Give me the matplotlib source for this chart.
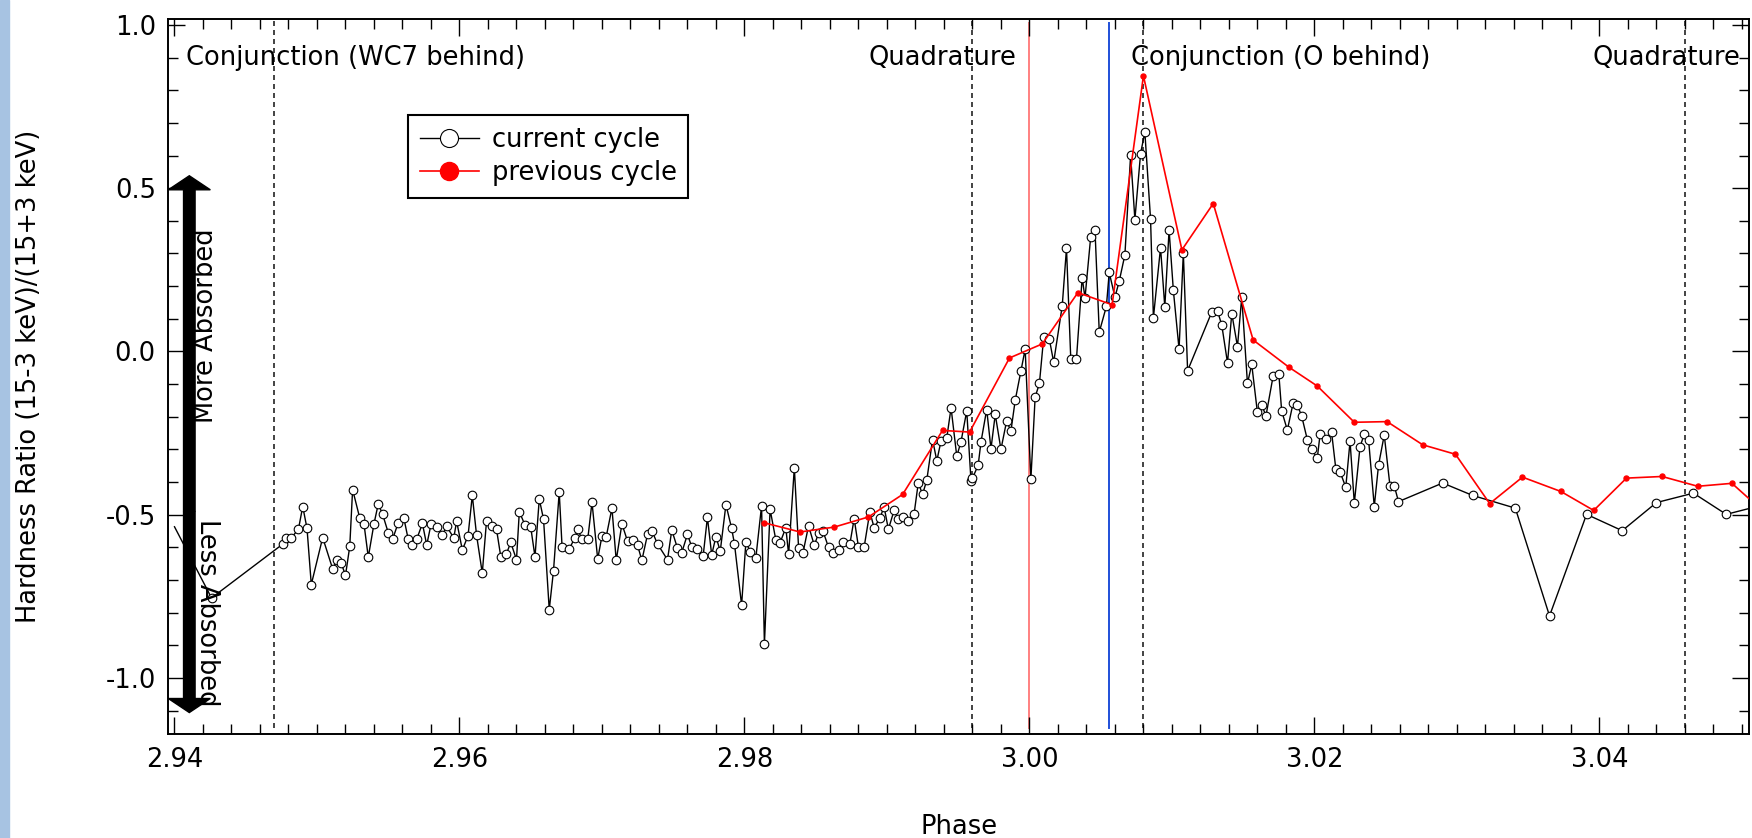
import matplotlib
matplotlib.use('Agg')
import matplotlib.pyplot as plt
from matplotlib.ticker import MultipleLocator, FormatStrFormatter
from matplotlib.lines import Line2D
from matplotlib.patches import Rectangle

plt.rcParams['font.family'] = 'DejaVu Sans'
plt.rcParams['axes.unicode_minus'] = False
FS = 18.5

# current cycle (open circles)
phase_cur = [
    2.9400, 2.9426, 2.9476, 2.9478, 2.9482, 2.9487, 2.9490, 2.9493, 2.9496, 2.9504,
    2.9511, 2.9514, 2.9517, 2.9520, 2.9523, 2.9525, 2.9530, 2.9533, 2.9536, 2.9540,
    2.9543, 2.9546, 2.9550, 2.9553, 2.9557, 2.9561, 2.9564, 2.9567, 2.9570, 2.9574,
    2.9577, 2.9580, 2.9584, 2.9588, 2.9591, 2.9596, 2.9598, 2.9602, 2.9606, 2.9609,
    2.9612, 2.9616, 2.9619, 2.9623, 2.9626, 2.9629, 2.9633, 2.9636, 2.9640, 2.9642,
    2.9646, 2.9650, 2.9653, 2.9656, 2.9659, 2.9663, 2.9666, 2.9670, 2.9672, 2.9677,
    2.9681, 2.9683, 2.9686, 2.9690, 2.9693, 2.9697, 2.9700, 2.9703, 2.9707, 2.9710,
    2.9714, 2.9718, 2.9722, 2.9725, 2.9728, 2.9732, 2.9735, 2.9739, 2.9746, 2.9749,
    2.9753, 2.9756, 2.9760, 2.9763, 2.9767, 2.9771, 2.9774, 2.9777, 2.9780, 2.9783,
    2.9787, 2.9791, 2.9793, 2.9798, 2.9801, 2.9804, 2.9808, 2.9812, 2.9814, 2.9818,
    2.9822, 2.9825, 2.9829, 2.9831, 2.9835, 2.9838, 2.9841, 2.9845, 2.9849, 2.9852,
    2.9855, 2.9859, 2.9862, 2.9866, 2.9869, 2.9874, 2.9877, 2.9880, 2.9884, 2.9888,
    2.9891, 2.9895, 2.9898, 2.9901, 2.9905, 2.9908, 2.9911, 2.9915, 2.9919, 2.9922,
    2.9925, 2.9928, 2.9932, 2.9935, 2.9938, 2.9942, 2.9945, 2.9949, 2.9952, 2.9956,
    2.9959, 2.9960, 2.9964, 2.9966, 2.9970, 2.9973, 2.9976, 2.9980, 2.9984, 2.9987,
    2.9990, 2.9994, 2.9997, 3.0001, 3.0004, 3.0007, 3.0010, 3.0014, 3.0017, 3.0023,
    3.0026, 3.0029, 3.0033, 3.0037, 3.0039, 3.0043, 3.0046, 3.0049, 3.0054, 3.0056,
    3.0060, 3.0063, 3.0067, 3.0071, 3.0074, 3.0078, 3.0081, 3.0085, 3.0087, 3.0092,
    3.0095, 3.0098, 3.0101, 3.0105, 3.0108, 3.0111, 3.0128, 3.0132, 3.0135, 3.0139,
    3.0142, 3.0146, 3.0149, 3.0153, 3.0156, 3.0160, 3.0163, 3.0166, 3.0171, 3.0175,
    3.0177, 3.0181, 3.0185, 3.0188, 3.0191, 3.0195, 3.0198, 3.0202, 3.0204, 3.0208,
    3.0212, 3.0215, 3.0218, 3.0222, 3.0225, 3.0228, 3.0232, 3.0235, 3.0238, 3.0242,
    3.0245, 3.0249, 3.0253, 3.0256, 3.0259, 3.0290, 3.0311, 3.0341, 3.0365, 3.0391,
    3.0416, 3.0440, 3.0466, 3.0489, 3.0515,
]
hr_cur = [
    -0.537, -0.755, -0.590, -0.571, -0.571, -0.544, -0.475, -0.542, -0.714, -0.570,
    -0.666, -0.640, -0.648, -0.686, -0.597, -0.423, -0.510, -0.529, -0.630, -0.528,
    -0.467, -0.498, -0.555, -0.576, -0.525, -0.511, -0.575, -0.594, -0.575, -0.527,
    -0.593, -0.530, -0.537, -0.563, -0.536, -0.571, -0.520, -0.608, -0.565, -0.441,
    -0.563, -0.679, -0.518, -0.536, -0.545, -0.629, -0.619, -0.585, -0.638, -0.491,
    -0.532, -0.538, -0.629, -0.452, -0.514, -0.791, -0.671, -0.431, -0.598, -0.605,
    -0.571, -0.544, -0.576, -0.576, -0.462, -0.636, -0.565, -0.567, -0.480, -0.640,
    -0.528, -0.582, -0.579, -0.594, -0.640, -0.560, -0.549, -0.590, -0.638, -0.547,
    -0.603, -0.616, -0.560, -0.599, -0.606, -0.627, -0.508, -0.623, -0.567, -0.612,
    -0.469, -0.542, -0.590, -0.777, -0.583, -0.613, -0.632, -0.473, -0.897, -0.484,
    -0.577, -0.586, -0.540, -0.621, -0.356, -0.603, -0.618, -0.534, -0.594, -0.557,
    -0.549, -0.600, -0.617, -0.608, -0.585, -0.589, -0.512, -0.599, -0.599, -0.491,
    -0.540, -0.511, -0.476, -0.545, -0.487, -0.514, -0.507, -0.518, -0.499, -0.402,
    -0.438, -0.393, -0.270, -0.335, -0.273, -0.264, -0.173, -0.321, -0.276, -0.182,
    -0.398, -0.388, -0.349, -0.277, -0.178, -0.298, -0.193, -0.300, -0.213, -0.244,
    -0.150, -0.061, 0.007, -0.392, -0.140, -0.098, 0.043, 0.037, -0.033, 0.139,
    0.316, -0.023, -0.023, 0.226, 0.164, 0.351, 0.372, 0.059, 0.138, 0.242,
    0.166, 0.215, 0.296, 0.601, 0.404, 0.606, 0.672, 0.405, 0.103, 0.318,
    0.136, 0.372, 0.187, 0.007, 0.301, -0.059, 0.121, 0.124, 0.080, -0.035,
    0.116, 0.015, 0.167, -0.098, -0.040, -0.187, -0.164, -0.197, -0.076, -0.068,
    -0.182, -0.241, -0.159, -0.164, -0.197, -0.270, -0.300, -0.327, -0.253, -0.268,
    -0.246, -0.359, -0.369, -0.416, -0.275, -0.465, -0.292, -0.253, -0.270, -0.475,
    -0.348, -0.256, -0.411, -0.411, -0.460, -0.403, -0.441, -0.480, -0.810, -0.499,
    -0.549, -0.463, -0.434, -0.499, -0.470,
]

# previous cycle (red dots)
phase_prev = [
    2.9814, 2.9839, 2.9863, 2.9887, 2.9911, 2.9939, 2.9958, 2.9986, 3.0009, 3.0034,
    3.0058, 3.0080, 3.0107, 3.0129, 3.0157, 3.0182, 3.0202, 3.0228, 3.0251, 3.0276,
    3.0299, 3.0323, 3.0346, 3.0373, 3.0396, 3.0419, 3.0444, 3.0469, 3.0493, 3.0515,
]
hr_prev = [
    -0.525, -0.553, -0.538, -0.507, -0.438, -0.242, -0.247, -0.020, 0.023, 0.180,
    0.143, 0.844, 0.311, 0.453, 0.035, -0.048, -0.106, -0.217, -0.215, -0.286,
    -0.315, -0.466, -0.385, -0.429, -0.487, -0.388, -0.383, -0.413, -0.404, -0.490,
]

# orbital markers
dashed_phases = [2.947, 2.996, 3.008, 3.046]
periastron = 3.000
obs_now = 3.0056
top_labels = [
    ('Conjunction (WC7 behind)', 2.9408, 'left'),
    ('Quadrature', 2.9991, 'right'),
    ('Conjunction (O behind)', 3.0071, 'left'),
    ('Quadrature', 3.0499, 'right'),
]

fig = plt.figure(figsize=(17.52, 8.38), dpi=100)
fig.patches.append(Rectangle((0, 0), 9 / 1752, 1, transform=fig.transFigure,
                             color='#a7c3e2', zorder=0))
ax = fig.add_axes([0.0961, 0.1241, 0.9022, 0.8532])

for p in dashed_phases:
    ax.axvline(p, ymin=0.008, ymax=1, color='#222222', lw=1.2,
               linestyle=(0, (3, 2.4)), zorder=1)
ax.axvline(periastron, ymin=0.008, ymax=0.995, color='#ff8080', lw=1.4, zorder=1)
ax.axvline(obs_now, ymin=0.008, ymax=0.995, color='#1f4fd8', lw=1.4, zorder=1)

ax.plot(phase_cur, hr_cur, color='black', lw=1.0, marker='o', ms=6.2,
        mfc='white', mec='black', mew=0.8, markevery=slice(1, None), zorder=3)
ax.plot(phase_prev, hr_prev, color='red', lw=1.2, marker='o', ms=3.6,
        mfc='red', mec='red', zorder=4)

for txt, x, ha in top_labels:
    ax.text(x, 0.899, txt, ha=ha, va='center', fontsize=FS)

# absorption arrows
ax.arrow(2.94104, -0.49, 0, 1.028, width=0.00081, head_width=0.00295,
         head_length=0.043, length_includes_head=True, color='black', zorder=5)
ax.arrow(2.94104, -0.49, 0, -0.616, width=0.00081, head_width=0.00295,
         head_length=0.043, length_includes_head=True, color='black', zorder=5)
ax.text(2.94222, 0.078, 'More Absorbed', rotation=90, ha='center', va='center',
        fontsize=FS, zorder=6)
ax.text(2.94229, -0.80, 'Less Absorbed', rotation=-90, ha='center', va='center',
        fontsize=FS, zorder=6)

handles = [
    Line2D([], [], color='black', lw=1.0, marker='o', ms=13, mfc='white',
           mec='black', mew=0.8),
    Line2D([], [], color='red', lw=1.2, marker='o', ms=13, mfc='red', mec='red'),
]
leg = ax.legend(handles, ['current cycle', 'previous cycle'], loc='upper left',
                bbox_to_anchor=(0.1518, 0.8657), borderaxespad=0, fontsize=FS,
                handlelength=2.3, handletextpad=0.5, labelspacing=0.3,
                borderpad=0.45, fancybox=False, framealpha=1)
leg.get_frame().set_edgecolor('black')
leg.get_frame().set_linewidth(1.5)

ax.set_xlim(2.93957, 3.0505)
ax.set_ylim(-1.1717, 1.018)
ax.xaxis.set_major_locator(MultipleLocator(0.02))
ax.xaxis.set_minor_locator(MultipleLocator(0.002))
ax.yaxis.set_major_locator(MultipleLocator(0.5))
ax.yaxis.set_minor_locator(MultipleLocator(0.1))
ax.xaxis.set_major_formatter(FormatStrFormatter('%.2f'))
ax.yaxis.set_major_formatter(FormatStrFormatter('%.1f'))
ax.tick_params(which='both', direction='in', top=True, right=True,
               labelsize=FS, width=1.0)
ax.tick_params(which='major', length=12, pad=9)
ax.tick_params(which='minor', length=7)
for s in ax.spines.values():
    s.set_linewidth(1.4)

ax.set_xlabel('Phase', fontsize=FS, labelpad=30)
ax.set_ylabel('Hardness Ratio (15-3 keV)/(15+3 keV)', fontsize=FS, labelpad=46)

fig.savefig('out.png', dpi=100)
